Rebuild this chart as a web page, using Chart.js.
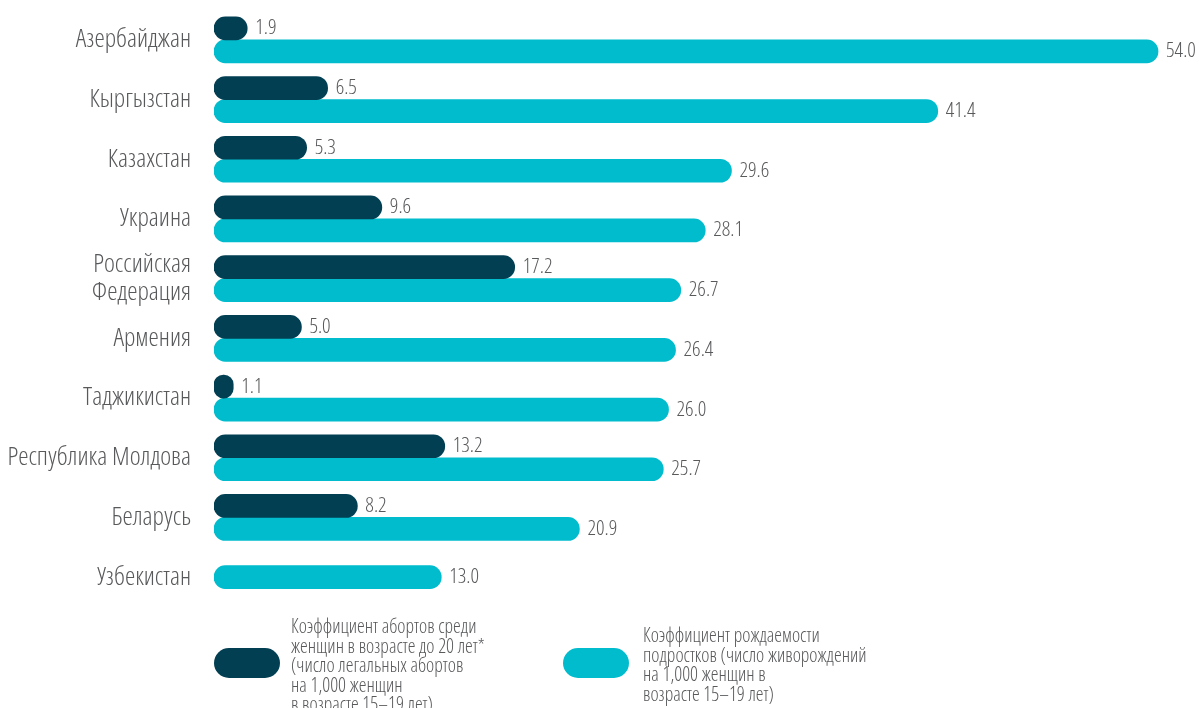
<!DOCTYPE html>
<html>
<head>
<meta charset="utf-8">
<script src="https://cdn.jsdelivr.net/npm/chart.js@4/dist/chart.umd.min.js"></script>
<style>
  html, body { margin: 0; padding: 0; background: #fff; }
  #wrap { position: relative; width: 1199px; height: 708px; }
</style>
</head>
<body>
<div id="wrap"><canvas id="chart" width="1199" height="708"></canvas></div>
<script>
// data
const countries = ['Азербайджан', 'Кыргызстан', 'Казахстан', 'Украина', ['Российская', 'Федерация'],
  'Армения', 'Таджикистан', 'Республика Молдова', 'Беларусь', 'Узбекистан'];
const abortionRate = [1.9, 6.5, 5.3, 9.6, 17.2, 5.0, 1.1, 13.2, 8.2, null];
const birthRate = [54.0, 41.4, 29.6, 28.1, 26.7, 26.4, 26.0, 25.7, 20.9, 13.0];

const abortionLegend = ['Коэффициент абортов среди', 'женщин в возрасте до 20 лет*',
  '(число легальных абортов', 'на 1,000 женщин', 'в возрасте 15–19 лет)'];
const birthLegend = ['Коэффициент рождаемости', 'подростков (число живорождений',
  'на 1,000 женщин в', 'возрасте 15–19 лет)'];

const DARK = '#023f53';
const CYAN = '#00bccd';
const TEXT = '#58595b';
const FAMILY = "'Open Sans', sans-serif";
// condensed light cut of Open Sans
const WEIGHT = 'condensed 300';

// value labels to the right of every bar
const valueLabels = {
  id: 'valueLabels',
  afterDatasetsDraw(chart) {
    const ctx = chart.ctx;
    ctx.save();
    ctx.font = WEIGHT + ' 21px ' + FAMILY;
    ctx.fillStyle = TEXT;
    ctx.textAlign = 'left';
    ctx.textBaseline = 'middle';
    chart.data.datasets.forEach((ds, i) => {
      chart.getDatasetMeta(i).data.forEach((bar, j) => {
        const v = ds.data[j];
        if (v === null || v === undefined) return;
        ctx.fillText(v.toFixed(1), bar.x + 8, bar.y);
      });
    });
    ctx.restore();
  }
};

// pill-shaped legend with wrapped text under the chart
const pillLegend = {
  id: 'pillLegend',
  afterDraw(chart) {
    const ctx = chart.ctx;
    const items = [
      { color: DARK, x: 214, tx: 291, lines: abortionLegend, base: 633 },
      { color: CYAN, x: 563, tx: 643, lines: birthLegend, base: 642 }
    ];
    ctx.save();
    ctx.font = WEIGHT + ' 19.5px ' + FAMILY;
    ctx.textBaseline = 'alphabetic';
    items.forEach(it => {
      ctx.fillStyle = it.color;
      ctx.beginPath();
      ctx.roundRect(it.x, 648, 66, 30, 15);
      ctx.fill();
      ctx.fillStyle = TEXT;
      it.lines.forEach((t, k) => ctx.fillText(t, it.tx, it.base + k * 19.5));
    });
    ctx.restore();
  }
};

new Chart(document.getElementById('chart'), {
  type: 'bar',
  data: {
    labels: countries,
    datasets: [
      {
        label: 'Коэффициент абортов',
        data: abortionRate,
        backgroundColor: DARK,
        borderRadius: 15,
        borderSkipped: false,
        barThickness: 23,
        skipNull: true
      },
      {
        label: 'Коэффициент рождаемости',
        data: birthRate,
        backgroundColor: CYAN,
        borderRadius: 15,
        borderSkipped: false,
        barThickness: 23,
        skipNull: true
      }
    ]
  },
  options: {
    indexAxis: 'y',
    responsive: false,
    animation: false,
    layout: { padding: { top: 10, right: 6, bottom: 101, left: 0 } },
    plugins: {
      legend: { display: false },
      tooltip: { enabled: false }
    },
    scales: {
      x: {
        display: false,
        min: 0,
        max: 56
      },
      y: {
        grid: { display: false, drawTicks: false },
        border: { display: false },
        ticks: {
          color: TEXT,
          padding: 23,
          autoSkip: false,
          font: { family: FAMILY, weight: WEIGHT, size: 26, lineHeight: 1.05 }
        },
        afterFit(scale) {
          scale.width = 214;
          scale.paddingTop = 0;
          scale.paddingBottom = 0;
        }
      }
    }
  },
  plugins: [valueLabels, pillLegend]
});
</script>
</body>
</html>
